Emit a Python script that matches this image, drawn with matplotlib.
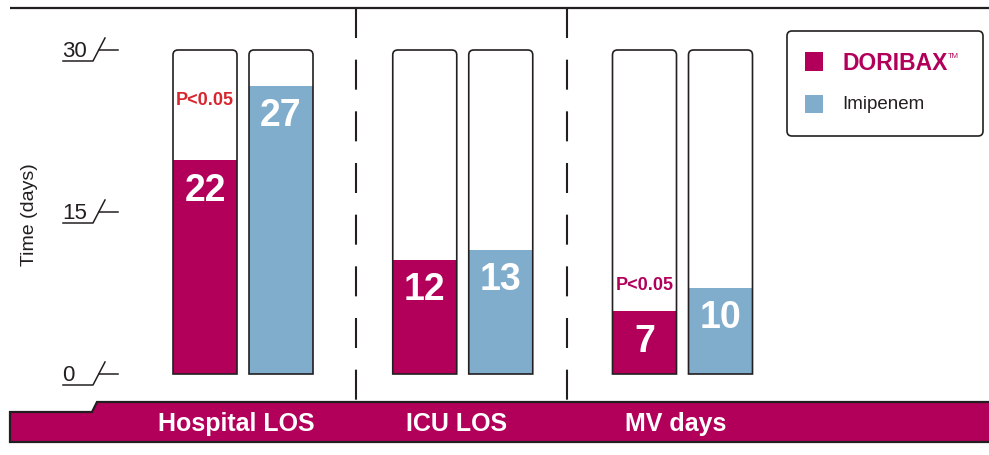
"""
Length of stay / ventilation days: DORIBAX vs Imipenem
"""

import matplotlib.pyplot as plt
import matplotlib.patches as mpatches
from matplotlib.path import Path
from matplotlib.transforms import blended_transform_factory

# ---- data ----
groups = ["Hospital LOS", "ICU LOS", "MV days"]
series = ["DORIBAX", "Imipenem"]
doribax_printed = [22, 12, 7]
imipenem_printed = [27, 13, 10]
# drawn bar heights as they appear in the picture (days)
doribax_drawn = [19.8, 10.6, 5.8]
imipenem_drawn = [26.7, 11.5, 8.0]
p_values = ["P<0.05", None, "P<0.05"]
y_ticks = [0, 15, 30]
y_max = 30

# ---- style ----
MAGENTA = "#B2005A"
BLUE = "#80ADCC"
PRED = "#D8262E"
DARK = "#231F20"
FONT = ["Liberation Sans", "DejaVu Sans"]

W, H = 989, 456
fig = plt.figure(figsize=(W / 100, H / 100), dpi=100)

# decoration layer in pixel units
deco = fig.add_axes([0, 0, 1, 1])
deco.set_xlim(0, W)
deco.set_ylim(H, 0)
deco.axis("off")

# data layer: x = group index, y = days
ax = fig.add_axes([0, 0, 1, 1])
ax.patch.set_alpha(0)
ax.axis("off")
grp0, grp_step = 243, 219.75       # pixel position of first group, spacing
y0_px, px_per_day = 375, 10.8
ax.set_xlim(-grp0 / grp_step, (W - grp0) / grp_step)
ax.set_ylim(-(H - y0_px) / px_per_day, y0_px / px_per_day)

bar_w = 64 / grp_step
offset = 38 / grp_step
rx = 5 / grp_step
ry = 5 / px_per_day


def frame_path(xc, w, top):
    x0, x1 = xc - w / 2, xc + w / 2
    verts = [(x0, 0), (x0, top - ry), (x0, top), (x0 + rx, top),
             (x1 - rx, top), (x1, top), (x1, top - ry), (x1, 0), (x0, 0)]
    codes = [Path.MOVETO, Path.LINETO, Path.CURVE3, Path.CURVE3,
             Path.LINETO, Path.CURVE3, Path.CURVE3, Path.LINETO, Path.CLOSEPOLY]
    return Path(verts, codes)


for i, g in enumerate(groups):
    for xc, drawn, printed, col in [(i - offset, doribax_drawn[i], doribax_printed[i], MAGENTA),
                                    (i + offset, imipenem_drawn[i], imipenem_printed[i], BLUE)]:
        ax.add_patch(mpatches.PathPatch(frame_path(xc, bar_w, y_max), facecolor="white",
                                        edgecolor="none", zorder=1))
        ax.bar(xc, drawn, width=bar_w, color=col, zorder=2)
        ax.add_patch(mpatches.PathPatch(frame_path(xc, bar_w, y_max), facecolor="none",
                                        edgecolor=DARK, lw=1.2, zorder=3))
        ax.text(xc, drawn - 2.75, str(printed), ha="center", va="center", color="white",
                fontsize=27, fontweight="bold", family=FONT, zorder=4)

# significance labels
p_y = [25.4, None, 8.3]
p_col = [PRED, None, MAGENTA]
for i, p in enumerate(p_values):
    if p:
        ax.text(i - offset, p_y[i], p, ha="center", va="center", color=p_col[i],
                fontsize=13, fontweight="bold", family=FONT, zorder=4)

# top rule and dashed separators
deco.plot([10, W], [9, 9], color=DARK, lw=1.6, solid_capstyle="butt")
for xs in [356, 567]:
    deco.plot([xs, xs], [9, 403], color=DARK, lw=1.5, dashes=(14.4, 10.4))

# y ticks with broken-axis style marks
to_px = deco.transData.inverted()
for t in y_ticks:
    ypx = to_px.transform(ax.transData.transform((0, t)))[1]
    deco.plot([63, 93, 105], [ypx + 11, ypx + 11, ypx - 12], color=DARK, lw=1.1)
    deco.plot([99, 118], [ypx, ypx], color=DARK, lw=1.1)
    deco.text(62, ypx + 6, str(t), ha="left", va="baseline", fontsize=16,
              color=DARK, family=FONT)

deco.text(30, 215, "Time (days)", rotation=90, ha="center", va="center",
          fontsize=14, color=DARK, family=FONT)

# bottom category band
band = mpatches.Polygon([(10, 413), (92, 413), (97, 403), (W + 5, 403), (W + 5, 443), (10, 443)],
                        closed=True, facecolor=MAGENTA, edgecolor=DARK, lw=1.6)
deco.add_patch(band)
band_tr = blended_transform_factory(ax.transData, deco.transData)
for i, g in enumerate(groups):
    ax.text(i - 0.03, 424, g, transform=band_tr, ha="center", va="center", color="white",
            fontsize=18, fontweight="bold", family=FONT, zorder=5)

# legend
deco.add_patch(mpatches.FancyBboxPatch((787, 32), 196, 105, boxstyle="round,pad=0,rounding_size=5",
                                       facecolor="white", edgecolor=DARK, lw=1.2))
deco.add_patch(mpatches.Rectangle((805, 53), 18, 19, facecolor=MAGENTA, edgecolor="none"))
deco.add_patch(mpatches.Rectangle((805, 96), 18, 18, facecolor=BLUE, edgecolor="none"))
deco.text(842, 63, series[0], ha="left", va="center", fontsize=16.5, fontweight="bold",
          color=MAGENTA, family=FONT)
deco.text(948, 57, "TM", ha="left", va="center", fontsize=5.5, color=MAGENTA, family=FONT)
deco.text(842, 105, series[1], ha="left", va="center", fontsize=13.5, color=DARK, family=FONT)

fig.savefig("out.png", dpi=100)
